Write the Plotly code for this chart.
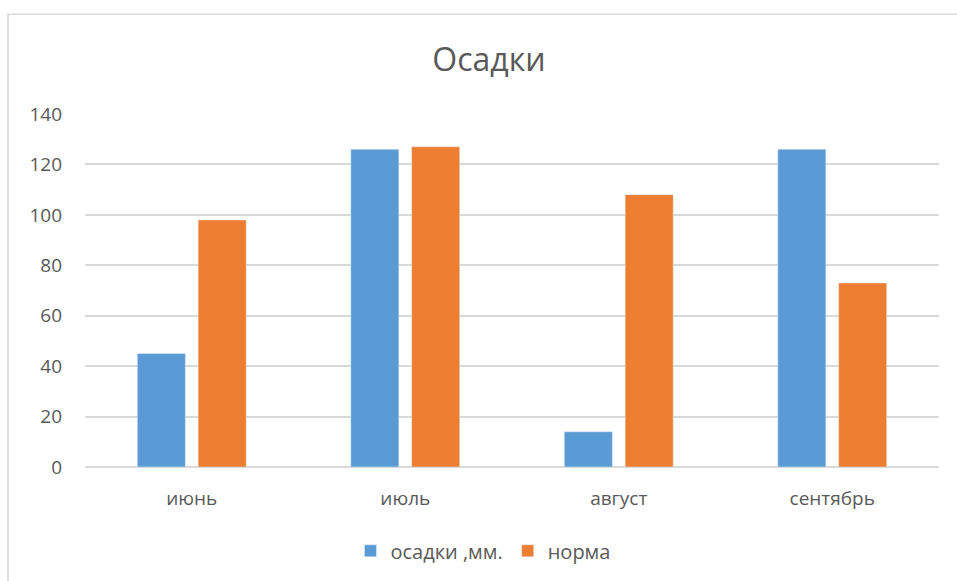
import plotly.graph_objects as go

categories = ["июнь", "июль", "август", "сентябрь"]
osadki = [45, 126, 14, 126]
norma = [98, 127, 108, 73]
series_names = ["осадки ,мм.", "норма"]
tick_vals = [0, 20, 40, 60, 80, 100, 120, 140]

font_family = "Open Sans, Liberation Sans, sans-serif"
txt = "#595959"

fig = go.Figure()
fig.add_trace(go.Bar(x=categories, y=osadki, name=series_names[0], marker=dict(color="#5B9BD5")))
fig.add_trace(go.Bar(x=categories, y=norma, name=series_names[1], marker=dict(color="#ED7D31")))

fig.update_layout(
    width=957, height=581,
    margin=dict(l=85, r=18, t=114, b=113),
    paper_bgcolor="white", plot_bgcolor="white",
    barmode="group", bargap=0.43, bargroupgap=0.21,
    font=dict(family=font_family, color=txt, size=19),
    title=dict(text="Осадки", x=489/957, xref="container", xanchor="center", y=1 - 60/581, yanchor="middle",
               font=dict(size=32, color=txt, family=font_family)),
    legend=dict(orientation="h", x=0.466, xanchor="center", y=-0.234, yanchor="middle",
                font=dict(size=20, color=txt), itemwidth=30, traceorder="normal"),
    shapes=[dict(type="rect", xref="paper", yref="paper", x0=(8-85)/854, x1=1.2, y0=-0.6, y1=1+100/354,
                 line=dict(color="#d9d9d9", width=1.5), fillcolor="rgba(0,0,0,0)", layer="below")],
)
fig.update_yaxes(range=[0, 140], tickvals=tick_vals, showgrid=True, gridcolor="#d9d9d9", gridwidth=1.5,
                 zeroline=True, zerolinecolor="#d9d9d9", zerolinewidth=1.5, showline=False,
                 ticks="", ticklabelstandoff=22, tickfont=dict(size=19, color=txt))
fig.update_xaxes(showgrid=False, showline=False, ticks="", ticklabelstandoff=18,
                 tickfont=dict(size=19, color=txt))

fig.write_html("out.html")
